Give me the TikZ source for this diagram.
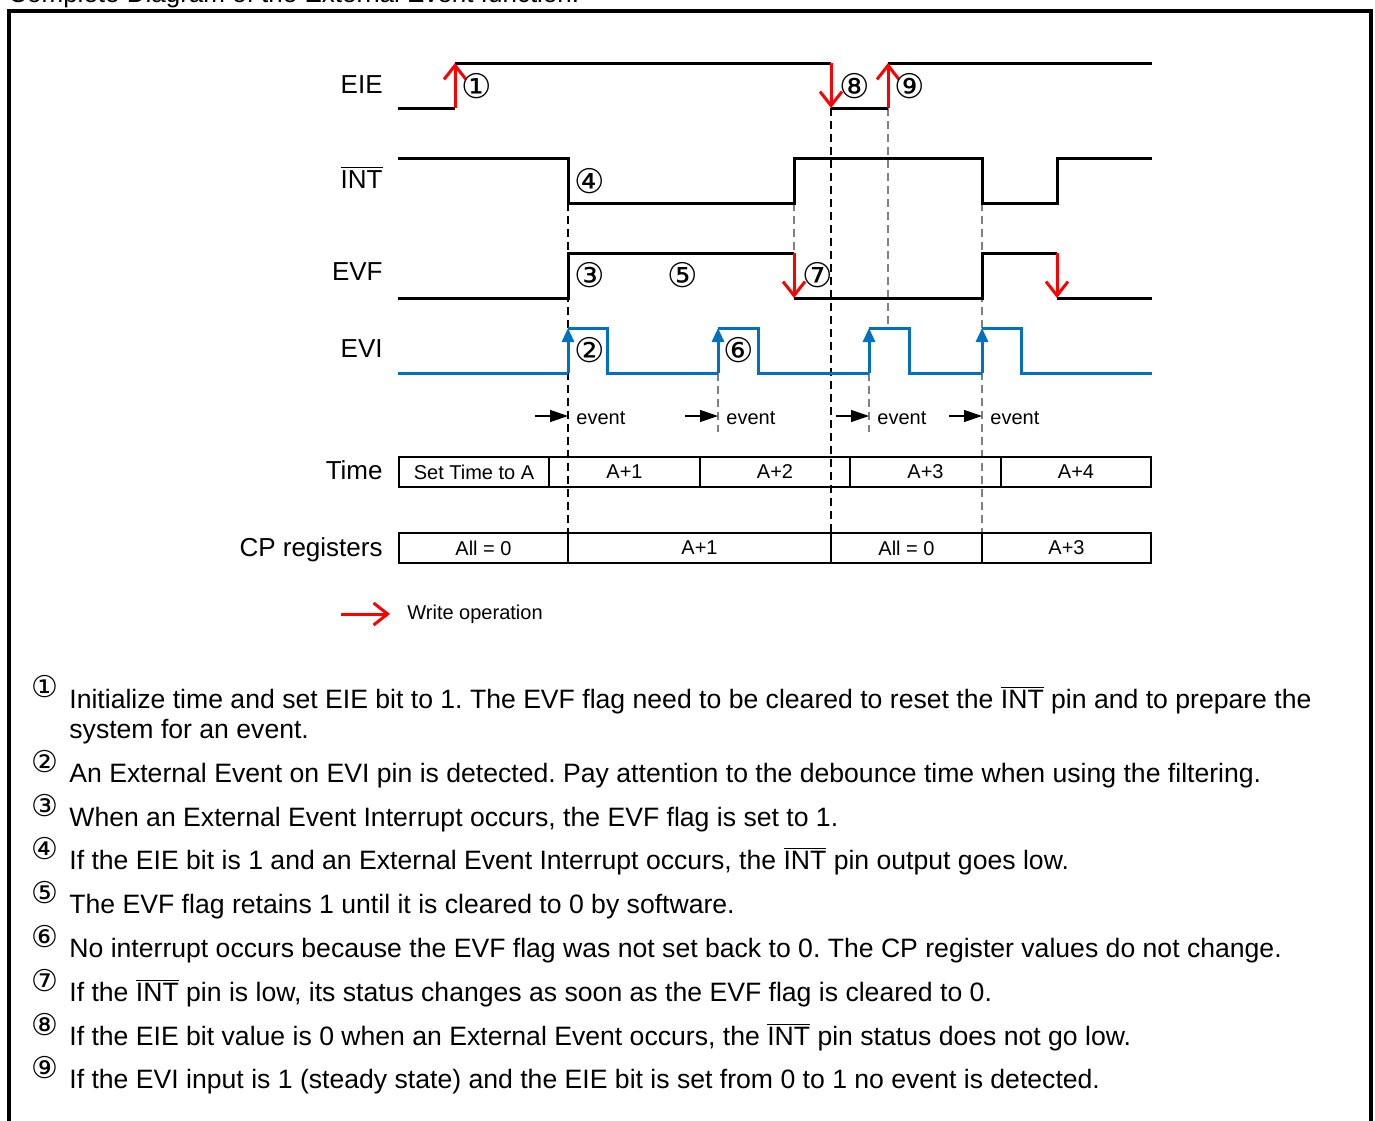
\documentclass[tikz,border=0pt]{standalone}
\usepackage{fontspec}
\setmainfont{Liberation Sans}
\newfontfamily\circfont{DejaVu Sans}
\usepackage{tikz}
\usetikzlibrary{arrows.meta,positioning,calc}
\frenchspacing
\definecolor{eviblue}{RGB}{0,112,192}
\definecolor{wred}{RGB}{255,0,0}
\tikzstyle{wave} = [line width=1.5pt, line join=miter]
\tikzstyle{eviwave} = [wave, draw=eviblue]
\tikzstyle{write} = [line width=1.5pt, draw=wred, -{Straight Barb[length=7pt,width=11pt,line width=1.5pt]}]
\tikzstyle{edge} = [line width=1.5pt, draw=eviblue, -{Triangle[length=7pt,width=6pt]}]
\tikzstyle{guide} = [line width=0.7pt, dash pattern=on 4pt off 2.5pt]
\tikzstyle{evarrow} = [line width=0.6pt, -{Triangle[length=9pt,width=6pt]}]
\tikzstyle{signame} = [anchor=base east, inner sep=0pt, font=\fontsize{13}{15}\selectfont]
\tikzstyle{cell} = [draw, rectangle, line width=0.7pt, outer sep=0pt, inner sep=0pt, minimum height=15pt, font=\fontsize{10}{12}\selectfont]
\tikzstyle{numlabel} = [inner sep=0pt, font=\fontsize{17}{19}\circfont]
\tikzstyle{itemno} = [inner sep=0pt, font=\fontsize{15}{17}\circfont]
\tikzstyle{itemtext} = [anchor=base west, inner sep=0pt, font=\fontsize{13.3}{15}\selectfont]
\newcommand{\intbar}{$\overline{\hbox{INT}}$}

\begin{document}
\begin{tikzpicture}[x=0.5pt, y=-0.5pt]
    \useasboundingbox (0,0) rectangle (1375,1120);

    % Frame and title
    \node[anchor=base west, inner sep=0pt, font=\fontsize{13}{15}\selectfont] (title) at (8,2) {Complete Diagram of the External Event function.};
    \draw[line width=2pt] (9,1140) -- (9,11) -- (1370.5,11) -- (1370.5,1140);

    % Signal names
    \node[signame] (eie) at (383,93) {EIE};
    \node[signame] (int) at (383,188) {\intbar};
    \node[signame] (evf) at (383,280) {EVF};
    \node[signame] (evi) at (383,357) {EVI};
    \node[signame] (time) at (383,479) {Time};
    \node[signame] (cp) at (383,556) {CP registers};

    % Guides
    \draw[guide] (568,203) -- (568,533);
    \draw[guide, gray] (794,203) -- (794,253);
    \draw[guide] (831,108) -- (831,533);
    \draw[guide, gray] (888,108) -- (888,328);
    \draw[guide, gray] (982,203) -- (982,533);
    \draw[guide, gray] (718,373) -- (718,432);
    \draw[guide, gray] (869,373) -- (869,432);

    % EIE
    \draw[wave] (398,108) -- (455,108);
    \draw[wave] (455,63) -- (831,63);
    \draw[wave] (831,108) -- (888,108);
    \draw[wave] (888,63) -- (1152,63);
    \draw[write] (455,108) -- (455,63);
    \draw[write] (831,63) -- (831,108);
    \draw[write] (888,108) -- (888,63);

    % INT
    \draw[wave] (398,158) -| (568,203) -| (794,158) -| (982,203) -| (1057,158) -- (1152,158);

    % EVF
    \draw[wave] (398,298) -| (568,253) -- (794,253);
    \draw[wave] (794,298) -| (982,253) -- (1057,253);
    \draw[wave] (1057,298) -- (1152,298);
    \draw[write] (794,253) -- (794,298);
    \draw[write] (1057,253) -- (1057,298);

    % EVI
    \draw[eviwave] (398,373) -- (568,373);
    \draw[eviwave] (568,328) -| (607,373) -- (718,373);
    \draw[eviwave] (718,328) -| (758,373) -- (869,373);
    \draw[eviwave] (869,328) -| (909,373) -- (982,373);
    \draw[eviwave] (982,328) -| (1021,373) -- (1152,373);
    \draw[edge] (568,373) -- (568,328);
    \draw[edge] (718,373) -- (718,328);
    \draw[edge] (869,373) -- (869,328);
    \draw[edge] (982,373) -- (982,328);

    % Numbers
    \node[numlabel] (n1) at (477,86) {①};
    \node[numlabel] (n2) at (590,350) {②};
    \node[numlabel] (n3) at (590,275) {③};
    \node[numlabel] (n4) at (590,181) {④};
    \node[numlabel] (n5) at (683,275) {⑤};
    \node[numlabel] (n6) at (739,350) {⑥};
    \node[numlabel] (n7) at (818,275) {⑦};
    \node[numlabel] (n8) at (855,86) {⑧};
    \node[numlabel] (n9) at (910,86) {⑨};

    % Events
    \draw[evarrow] (535,416) -- (568,416);
    \draw[evarrow] (685,416) -- (718,416);
    \draw[evarrow] (836,416) -- (869,416);
    \draw[evarrow] (949,416) -- (982,416);
    \node[anchor=base west, inner sep=0pt, font=\fontsize{10}{12}\selectfont] (ev1) at (576,424) {event};
    \node[anchor=base west, inner sep=0pt, font=\fontsize{10}{12}\selectfont] (ev2) at (726,424) {event};
    \node[anchor=base west, inner sep=0pt, font=\fontsize{10}{12}\selectfont] (ev3) at (877,424) {event};
    \node[anchor=base west, inner sep=0pt, font=\fontsize{10}{12}\selectfont] (ev4) at (990,424) {event};

    % Time
    \node[cell, minimum width=75pt, anchor=west] (t1) at (399,472) {Set Time to A};
    \node[cell, minimum width=75.5pt, right=0pt of t1] (t2) {A+1};
    \node[cell, minimum width=75pt, right=0pt of t2] (t3) {A+2};
    \node[cell, minimum width=75.5pt, right=0pt of t3] (t4) {A+3};
    \node[cell, minimum width=75pt, right=0pt of t4] (t5) {A+4};

    % CP registers
    \node[cell, minimum width=84.5pt, anchor=west] (c1) at (399,548) {All = 0};
    \node[cell, minimum width=131.5pt, right=0pt of c1] (c2) {A+1};
    \node[cell, minimum width=75.5pt, right=0pt of c2] (c3) {All = 0};
    \node[cell, minimum width=84.5pt, right=0pt of c3] (c4) {A+3};

    % Legend
    \coordinate (lg) at (341,614);
    \node[anchor=west, inner sep=0pt, font=\fontsize{10}{12}\selectfont] (legend) at (407,614) {Write operation};
    \draw[write] (lg) -- ++(49,0);

    % Notes
    \node[itemno] (m1) at (45,687) {①};
    \node[itemtext] (d1) at (69,708.5) {Initialize time and set EIE bit to 1. The EVF flag need to be cleared to reset the \intbar{} pin and to prepare the};
    \node[itemtext] (d1b) at (69,738.5) {system for an event.};
    \node[itemno] (m2) at (45,762) {②};
    \node[itemtext] (d2) at (69,782.5) {An External Event on EVI pin is detected. Pay attention to the debounce time when using the filtering.};
    \node[itemno] (m3) at (45,806) {③};
    \node[itemtext] (d3) at (69,826.5) {When an External Event Interrupt occurs, the EVF flag is set to 1.};
    \node[itemno] (m4) at (45,849) {④};
    \node[itemtext] (d4) at (69,869.5) {If the EIE bit is 1 and an External Event Interrupt occurs, the \intbar{} pin output goes low.};
    \node[itemno] (m5) at (45,893) {⑤};
    \node[itemtext] (d5) at (69,913.5) {The EVF flag retains 1 until it is cleared to 0 by software.};
    \node[itemno] (m6) at (45,937) {⑥};
    \node[itemtext] (d6) at (69,957.5) {No interrupt occurs because the EVF flag was not set back to 0. The CP register values do not change.};
    \node[itemno] (m7) at (45,981) {⑦};
    \node[itemtext] (d7) at (69,1001.5) {If the \intbar{} pin is low, its status changes as soon as the EVF flag is cleared to 0.};
    \node[itemno] (m8) at (45,1025) {⑧};
    \node[itemtext] (d8) at (69,1045.5) {If the EIE bit value is 0 when an External Event occurs, the \intbar{} pin status does not go low.};
    \node[itemno] (m9) at (45,1068) {⑨};
    \node[itemtext] (d9) at (69,1088.5) {If the EVI input is 1 (steady state) and the EIE bit is set from 0 to 1 no event is detected.};
\end{tikzpicture}
\end{document}
